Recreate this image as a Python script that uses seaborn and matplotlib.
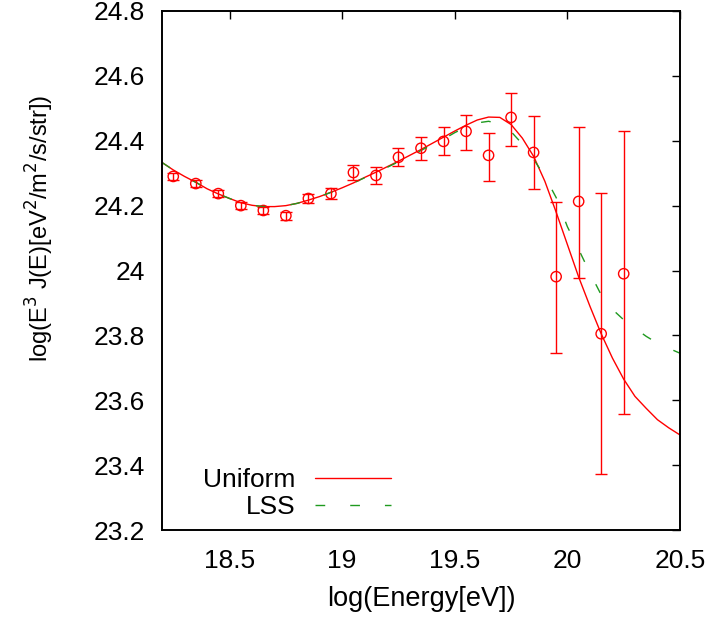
import numpy as np
import pandas as pd
import matplotlib
matplotlib.use("Agg")
import matplotlib.pyplot as plt
import seaborn as sns

# ---- data points (log E, log E^3 J) ----
x_data = [18.25, 18.35, 18.45, 18.55, 18.65, 18.75, 18.85, 18.95, 19.05, 19.15,
          19.25, 19.35, 19.45, 19.55, 19.65, 19.75, 19.85, 19.95, 20.05, 20.15, 20.25]
y_data = [24.290, 24.268, 24.237, 24.200, 24.185, 24.169, 24.222, 24.237, 24.302, 24.293,
          24.349, 24.377, 24.398, 24.429, 24.355, 24.472, 24.364, 23.981, 24.213, 23.805, 23.990]
err_low = [0.010, 0.010, 0.010, 0.010, 0.010, 0.012, 0.015, 0.017, 0.022, 0.026,
           0.028, 0.036, 0.043, 0.056, 0.080, 0.089, 0.114, 0.235, 0.235, 0.433, 0.433]
err_high = [0.010, 0.010, 0.010, 0.010, 0.010, 0.012, 0.015, 0.017, 0.022, 0.026,
            0.028, 0.036, 0.043, 0.049, 0.068, 0.075, 0.111, 0.229, 0.228, 0.435, 0.439]

# ---- model curves ----
x_curve = [18.20, 18.25, 18.30, 18.35, 18.40, 18.45, 18.50, 18.55, 18.60, 18.65,
           18.70, 18.75, 18.80, 18.85, 18.90, 18.95, 19.00, 19.05, 19.10, 19.15,
           19.20, 19.25, 19.30, 19.35, 19.40, 19.45, 19.50, 19.55, 19.60, 19.65,
           19.70, 19.75, 19.80, 19.85, 19.90, 19.95, 20.00, 20.05, 20.10, 20.15,
           20.20, 20.25, 20.30, 20.35, 20.40, 20.45, 20.50]
y_uniform = [24.333, 24.310, 24.290, 24.272, 24.252, 24.236, 24.222, 24.209, 24.201, 24.197,
             24.197, 24.200, 24.207, 24.217, 24.228, 24.241, 24.255, 24.270, 24.287, 24.303,
             24.320, 24.337, 24.355, 24.373, 24.392, 24.411, 24.430, 24.448, 24.464, 24.473,
             24.472, 24.450, 24.408, 24.352, 24.275, 24.180, 24.080, 23.980, 23.890, 23.805,
             23.730, 23.665, 23.612, 23.575, 23.540, 23.515, 23.493]
y_lss = [24.333, 24.310, 24.290, 24.272, 24.252, 24.236, 24.222, 24.209, 24.201, 24.197,
         24.197, 24.200, 24.207, 24.217, 24.228, 24.241, 24.255, 24.270, 24.286, 24.302,
         24.318, 24.335, 24.352, 24.370, 24.388, 24.405, 24.425, 24.442, 24.455, 24.460,
         24.452, 24.428, 24.390, 24.343, 24.290, 24.225, 24.135, 24.065, 23.993, 23.925,
         23.880, 23.848, 23.822, 23.797, 23.776, 23.760, 23.745]

x_ticks = [18.5, 19, 19.5, 20, 20.5]
x_tick_labels = ["18.5", "19", "19.5", "20", "20.5"]
y_ticks = [23.2, 23.4, 23.6, 23.8, 24, 24.2, 24.4, 24.6, 24.8]
y_tick_labels = ["23.2", "23.4", "23.6", "23.8", "24", "24.2", "24.4", "24.6", "24.8"]

sns.set_theme(style="white")
plt.rcParams['font.family'] = ['Liberation Sans', 'DejaVu Sans']
plt.rcParams['text.color'] = 'black'
plt.rcParams['axes.labelcolor'] = 'black'
FS = 19

fig = plt.figure(figsize=(7.13, 6.24), dpi=100)
ax = fig.add_axes([162/713, 1 - 530/624, (680 - 162)/713, (530 - 11)/624])

curves = pd.DataFrame({"x": x_curve, "Uniform": y_uniform, "LSS": y_lss})
pts = pd.DataFrame({"x": x_data, "y": y_data})

sns.lineplot(data=curves, x="x", y="Uniform", ax=ax, color="#ff0000", lw=1.0,
             label="Uniform", sort=True)
sns.lineplot(data=curves, x="x", y="LSS", ax=ax, color="#1f9a1f", lw=1.0,
             label="LSS", dashes=False, sort=True)
ax.lines[-1].set_dashes((7, 18))

ax.errorbar(x_data, y_data, yerr=[err_low, err_high], fmt="none",
            ecolor="#ff0000", elinewidth=1.0, capsize=4, capthick=1.0)
sns.scatterplot(data=pts, x="x", y="y", ax=ax, s=55, marker="o",
                facecolor="none", edgecolor="#ff0000", linewidth=1.0, legend=False)

ax.set_xlim(18.2, 20.5)
ax.set_ylim(23.2, 24.8)
ax.set_xticks(x_ticks)
ax.set_xticklabels(x_tick_labels)
ax.set_yticks(y_ticks)
ax.set_yticklabels(y_tick_labels)
ax.tick_params(direction="in", length=6, width=1, top=True, right=True,
               labelsize=FS, pad=12, colors="black")
ax.tick_params(axis="x", pad=14)
for sp in ax.spines.values():
    sp.set_color("black")
    sp.set_linewidth(1.4)

ax.set_xlabel("log(Energy[eV])", fontsize=FS + 0.5, labelpad=9, color="black")
ax.set_ylabel(r"log(E$^3$ J(E)[eV$^2$/m$^2$/s/str])", fontsize=17, color="black")
ax.yaxis.set_label_coords(-0.205, 0.582)

leg = ax.legend(loc="lower left", bbox_to_anchor=(0.053, -0.004), frameon=False,
                markerfirst=False, fontsize=FS, handlelength=2.9, handletextpad=0.75,
                labelspacing=0.1, borderpad=0)
for t in leg.get_texts():
    t.set_ha("right")
    t.set_color("black")

fig.savefig("out.png", dpi=100)
